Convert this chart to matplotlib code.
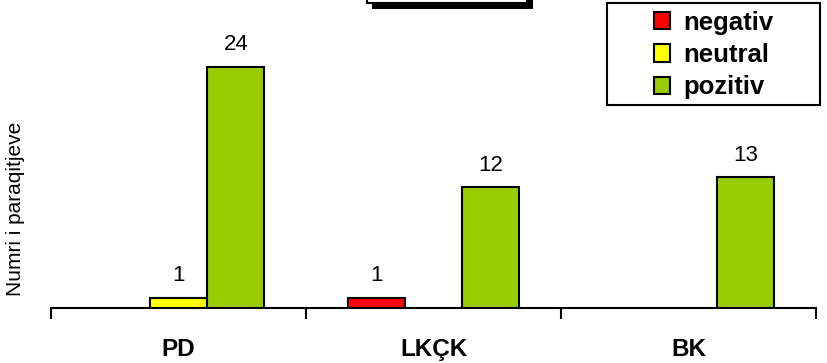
import numpy as np
import matplotlib.pyplot as plt
from matplotlib.patches import Rectangle

plt.rcParams['font.family'] = ['Liberation Sans', 'DejaVu Sans']

# data
parties = ["PD", "LKÇK", "BK"]
series = ["negativ", "neutral", "pozitiv"]
negativ = [0, 1, 0]
neutral = [1, 0, 0]
pozitiv = [24, 12, 13]
colors = ["#ff0000", "#ffff00", "#99cc00"]

W, H = 827, 363
fig = plt.figure(figsize=(W/100, H/100), dpi=100)
ax = fig.add_axes([51/W, 55.3/H, 765/W, 281/H])

x = np.arange(len(parties))
width = 0.224
offsets = [-0.225, 0, 0.225]
for vals, off, col, name in zip([negativ, neutral, pozitiv], offsets, colors, series):
    vals = np.array(vals, dtype=float)
    mask = vals > 0
    ax.bar(x[mask] + off, vals[mask], width, color=col, edgecolor="black",
           linewidth=1.5, label=name, zorder=3)
    for xi, v in zip(x[mask] + off, vals[mask]):
        ax.annotate(f"{int(v)}", (xi, v), xytext=(0, 12), textcoords="offset points",
                    ha="center", va="baseline", fontsize=16)

ax.set_xlim(-0.5, 2.5)
ax.set_ylim(0, 28)
ax.set_xticks(x)
ax.set_xticklabels(parties, fontsize=17.5, fontweight="bold")
ax.tick_params(axis="x", which="major", length=0, pad=22)
ax.set_xticks([-0.5, 0.5, 1.5, 2.5], minor=True)
ax.tick_params(axis="x", which="minor", length=8, width=1.5, direction="out")
ax.set_yticks([])
for s in ["left", "top", "right"]:
    ax.spines[s].set_visible(False)
ax.spines["bottom"].set_linewidth(1.5)
ax.set_ylabel("Numri i paraqitjeve", fontsize=15)
ax.yaxis.set_label_coords(-0.034, 0.35)

# legend box drawn separately, legend centred inside it
lx0, lx1, ly0, ly1 = 607, 820, 3, 105
fig.add_artist(Rectangle((lx0/W, 1 - ly1/H), (lx1 - lx0)/W, (ly1 - ly0)/H,
                         transform=fig.transFigure, facecolor="white",
                         edgecolor="black", linewidth=1.5, zorder=4))
handles, labels = ax.get_legend_handles_labels()
leg = fig.legend(handles, labels, loc="center",
                 bbox_to_anchor=((lx0 + lx1)/2/W, 1 - (ly0 + ly1 + 2)/2/H),
                 bbox_transform=fig.transFigure, frameon=False,
                 handlelength=0.65, handleheight=0.65, handletextpad=0.5,
                 borderpad=0.1, labelspacing=0.32,
                 prop={"weight": "bold", "size": 18.5})
leg.set_zorder(5)

# clipped title box at the top
fig.add_artist(Rectangle((372/W, 354/H), 161/W, 20/H, transform=fig.transFigure,
                         facecolor="black", edgecolor="none", clip_on=False))
fig.add_artist(Rectangle((367/W, 360/H), 160/W, 20/H, transform=fig.transFigure,
                         facecolor="white", edgecolor="black", linewidth=1.5,
                         clip_on=False))

plt.savefig("out.png", dpi=100)
